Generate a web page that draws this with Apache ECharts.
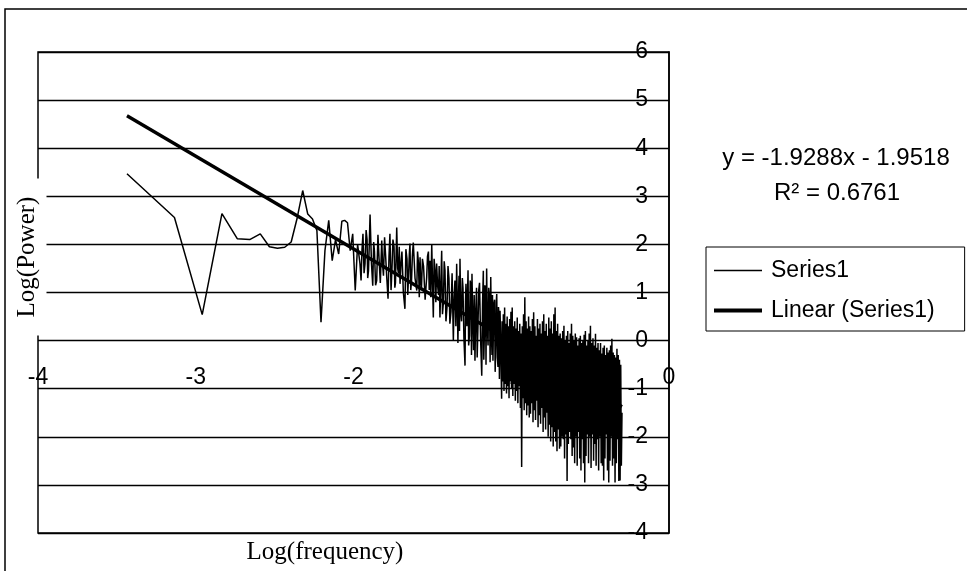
<!DOCTYPE html>
<html><head><meta charset="utf-8">
<script src="https://cdn.jsdelivr.net/npm/echarts@6/dist/echarts.min.js"></script>
<style>html,body{margin:0;padding:0;background:#fff}#c{width:967px;height:571px}</style>
</head><body><div id="c"></div>
<script>
const xTickLabels = [-4, -3, -2, -1, 0];
const yTickLabels = [-4, -3, -2, -1, 0, 1, 2, 3, 4, 5, 6];
const seriesName = 'Series1';
const trendName = 'Linear (Series1)';
const trendSlope = -1.9288;
const trendIntercept = -1.9518;
const rSquared = 0.6761;

const logFreq = [
-3.436,-3.135,-2.959,-2.834,-2.737,-2.658,-2.591,-2.533,-2.482,-2.436,
-2.395,-2.357,-2.322,-2.290,-2.260,-2.232,-2.206,-2.181,-2.157,-2.135,
-2.114,-2.094,-2.074,-2.056,-2.038,-2.021,-2.005,-1.989,-1.974,-1.959,
-1.952,-1.946,-1.940,-1.933,-1.927,-1.920,-1.914,-1.910,-1.905,-1.900,
-1.895,-1.886,-1.878,-1.872,-1.867,-1.860,-1.853,-1.845,-1.838,-1.830,
-1.821,-1.815,-1.810,-1.803,-1.797,-1.789,-1.781,-1.775,-1.769,-1.762,
-1.756,-1.750,-1.743,-1.738,-1.734,-1.730,-1.726,-1.720,-1.715,-1.710,
-1.705,-1.699,-1.693,-1.684,-1.674,-1.668,-1.661,-1.656,-1.651,-1.646,
-1.642,-1.637,-1.632,-1.627,-1.621,-1.610,-1.599,-1.594,-1.588,-1.583,
-1.578,-1.574,-1.569,-1.563,-1.556,-1.546,-1.536,-1.531,-1.525,-1.520,
-1.515,-1.510,-1.504,-1.499,-1.494,-1.489,-1.483,-1.478,-1.473,-1.467,
-1.461,-1.457,-1.452,-1.446,-1.441,-1.436,-1.430,-1.425,-1.420,-1.414,
-1.407,-1.401,-1.395,-1.389,-1.382,-1.375,-1.367,-1.362,-1.357,-1.351,
-1.346,
-1.338,-1.334,-1.331,-1.328,-1.325,-1.320,-1.315,-1.310,-1.306,-1.300,
-1.293,-1.290,-1.287,-1.281,-1.274,-1.270,-1.265,-1.260,-1.255,-1.252,
-1.249,-1.244,-1.239,-1.235,-1.230,-1.225,-1.220,-1.216,-1.211,-1.206,
-1.201,-1.194,-1.187,-1.182,-1.177,-1.174,-1.170,-1.167,-1.163,-1.160,
-1.156,-1.152,-1.147,-1.143,-1.138,-1.134,-1.130,-1.126,-1.122,-1.119,
-1.116,-1.111,-1.106,-1.102,-1.097,-1.095,-1.092,-1.088,-1.084,-1.081,
-1.078,-1.075,-1.071,-1.066,-1.061,
-1.058,-1.054,-1.050,-1.046,-1.042,-1.038,-1.034,-1.030,-1.026,-1.022,
-1.018,-1.014,-1.010,-1.006,-1.002,-0.998,-0.994,-0.990,-0.986,-0.982,
-0.978,-0.974,-0.970,-0.966,-0.962,-0.958,-0.954,-0.950,-0.946,-0.942,
-0.938,-0.934,-0.930,-0.926,-0.922,-0.918,-0.914,-0.910,-0.906,-0.902,
-0.898,-0.894,-0.890,-0.886,-0.882,-0.878,-0.874,-0.870,-0.866,-0.862,
-0.858,-0.854,-0.850,-0.846,-0.842,-0.838,-0.834,-0.830,-0.826,-0.822,
-0.818,-0.814,-0.810,-0.806,-0.802,-0.798,-0.794,-0.790,-0.786,-0.782,
-0.778,-0.774,-0.770,-0.766,-0.762,-0.758,-0.754,-0.750,-0.746,-0.742,
-0.738,-0.734,-0.730,-0.726,-0.722,-0.718,-0.714,-0.710,-0.706,-0.702,
-0.698,-0.694,
-0.690,-0.686,-0.682,-0.678,-0.674,-0.670,-0.666,-0.662,-0.658,-0.654,
-0.650,-0.646,-0.642,-0.638,-0.634,-0.630,-0.626,-0.622,-0.618,-0.614,
-0.610,-0.606,-0.602,-0.598,-0.594,-0.590,-0.586,-0.582,-0.578,-0.574,
-0.570,-0.566,-0.562,-0.558,-0.554,-0.550,-0.546,-0.542,-0.538,-0.534,
-0.530,-0.526,-0.522,-0.518,-0.514,-0.510,-0.506,-0.502,-0.498,-0.494,
-0.490,-0.486,-0.482,-0.478,-0.474,-0.470,-0.466,-0.462,-0.458,-0.454,
-0.450,-0.446,-0.442,-0.438,-0.434,-0.430,-0.426,-0.422,-0.418,-0.414,
-0.410,-0.406,-0.402,-0.398,-0.394,-0.390,-0.386,-0.382,-0.378,-0.374,
-0.370,-0.366,-0.362,-0.358,-0.354,-0.350,-0.346,-0.342,-0.338,-0.334,
-0.330,-0.326,-0.322,-0.318,-0.314,-0.310,-0.306,-0.302,-0.298
];

const logPower = [
3.47,2.56,0.54,2.64,2.12,2.10,2.22,1.95,1.92,1.94,
2.05,2.55,3.12,2.63,2.53,2.29,0.38,1.87,2.50,1.66,
2.10,1.80,2.48,2.50,2.45,1.87,2.22,1.04,2.00,1.60,
1.25,1.90,2.22,1.40,1.60,2.30,2.10,1.30,1.45,2.00,
2.62,1.60,1.14,2.05,1.85,1.15,1.25,2.20,1.70,1.20,
2.08,1.55,1.35,2.15,1.80,1.30,0.87,1.75,2.22,1.05,
1.50,2.10,1.95,1.10,1.20,1.75,2.35,1.50,1.40,1.95,
1.18,1.60,1.85,1.00,0.66,1.90,1.70,0.95,1.35,1.80,
2.02,1.05,1.25,1.75,2.04,1.30,1.04,1.85,1.60,0.90,
1.73,1.20,1.10,1.70,1.55,0.85,1.32,1.75,1.85,1.05,
1.66,0.90,2.00,1.20,0.48,1.70,1.45,0.80,1.60,1.15,
0.95,1.55,0.48,1.20,1.87,0.55,0.80,1.65,1.46,0.40,
0.70,1.55,1.30,0.35,0.60,1.40,0.00,0.90,1.25,0.30,
1.60,
-0.05,0.95,1.35,0.20,1.70,0.60,0.40,1.30,1.10,0.05,
-0.52,0.80,1.18,0.30,1.46,-0.10,0.10,1.25,1.05,-0.30,
1.39,0.45,-0.20,0.95,-0.42,0.60,1.10,-0.35,0.30,1.05,
1.20,0.00,-0.73,0.75,1.45,-0.40,0.20,1.15,1.00,-0.50,
1.50,0.35,-0.10,1.10,0.90,-0.45,1.32,0.20,-0.30,0.95,
-0.42,0.75,0.85,-0.65,0.10,0.80,0.97,-0.35,-0.55,0.70,
0.55,-0.80,0.62,-0.20,-1.21,
0.40,-0.85,0.55,-1.05,0.69,-0.90,0.35,-1.10,0.50,-0.95,
0.30,-1.20,0.45,-0.85,0.60,-1.00,0.69,-1.15,0.30,-0.90,
0.40,-1.25,0.25,-1.05,0.48,-1.30,0.20,-0.95,0.35,-1.40,
0.15,-2.63,0.30,-1.20,0.55,-1.45,0.90,-1.30,0.40,-1.55,
0.25,-1.35,0.50,-1.60,0.30,-1.52,0.20,-1.30,0.45,-1.70,
0.59,-1.45,0.30,-1.65,0.10,-1.25,0.45,-1.80,0.25,-1.55,
0.35,-1.73,0.15,-1.40,0.40,-1.90,0.55,-1.60,0.20,-1.85,
0.35,-1.50,0.10,-2.00,0.48,-1.75,0.25,-2.10,0.40,-1.80,
0.15,-2.20,0.55,-1.90,0.69,-2.10,0.20,-2.30,0.35,-1.85,
0.10,-2.25,
0.15,-2.20,0.05,-2.00,0.20,-2.05,0.31,-2.45,0.00,-1.95,
0.10,-2.92,0.20,-2.15,-0.05,-1.90,0.15,-2.05,0.35,-2.40,
0.10,-2.22,0.00,-2.55,0.15,-2.00,0.07,-2.60,-0.10,-1.90,
0.05,-2.45,0.10,-2.70,-0.05,-2.05,0.00,-2.55,0.12,-2.95,
0.20,-2.40,-0.10,-1.95,0.00,-2.55,0.15,-2.00,0.31,-2.65,
-0.05,-1.95,0.05,-2.50,-0.10,-2.15,0.14,-2.60,-0.15,-2.05,
-0.05,-2.70,-0.20,-2.00,-0.05,-2.55,-0.27,-2.60,-0.15,-2.91,
-0.10,-2.45,-0.30,-1.95,-0.15,-2.70,-0.25,-2.95,-0.20,-2.50,
-0.10,-2.00,0.04,-2.60,-0.25,-2.45,-0.30,-2.95,-0.35,-2.55,
-0.17,-2.05,-0.30,-2.92,-0.40,-2.91,-0.50,-2.60,-1.50
];

const series1Data = logFreq.map((x, i) => [x, logPower[i]]);
const xFirst = logFreq[0], xLast = logFreq[logFreq.length - 1];
const trendData = [[xFirst, trendSlope * xFirst + trendIntercept], [xLast, trendSlope * xLast + trendIntercept]];

const sans = "'Liberation Sans', Arial, sans-serif";
const serif = "'Liberation Serif', 'Times New Roman', serif";
const eqText = 'y = ' + trendSlope.toFixed(4) + 'x - ' + Math.abs(trendIntercept).toFixed(4);
const r2Text = 'R\u00B2 = ' + rSquared.toFixed(4);

const chart = echarts.init(document.getElementById('c'), null, {renderer: 'canvas'});
chart.setOption({
  animation: false,
  backgroundColor: '#fff',
  grid: {left: 38, right: 298, top: 52, bottom: 38, show: true, borderColor: '#000', borderWidth: 1.5, backgroundColor: 'transparent'},
  xAxis: {
    type: 'value', min: xTickLabels[0], max: xTickLabels[xTickLabels.length - 1], interval: 1,
    position: 'bottom', offset: -146,
    axisLine: {show: false}, axisTick: {show: false}, splitLine: {show: false},
    axisLabel: {inside: true, margin: -2, color: '#000', fontSize: 23, fontFamily: sans, showMinLabel: true, showMaxLabel: true}
  },
  yAxis: {
    type: 'value', min: yTickLabels[0], max: yTickLabels[yTickLabels.length - 1], interval: 1,
    position: 'right',
    axisLine: {show: true, lineStyle: {color: '#000', width: 1.5}},
    axisTick: {show: false},
    splitLine: {show: true, lineStyle: {color: '#000', width: 1.4}},
    axisLabel: {inside: true, margin: 21, color: '#000', fontSize: 23, fontFamily: sans}
  },
  legend: {
    orient: 'vertical', left: 706, top: 247,
    padding: [12, 30, 9, 8],
    itemWidth: 48, itemHeight: 14, itemGap: 17,
    borderColor: '#000', borderWidth: 1,
    symbolKeepAspect: true,
    itemStyle: {color: '#000'},
    textStyle: {color: '#000', fontSize: 23, fontFamily: sans, padding: [0, 0, 0, 4]},
    data: [
      {name: seriesName, icon: 'path://M0,0H48V1.5H0Z'},
      {name: trendName, icon: 'path://M0,0H48V4H0Z'}
    ]
  },
  graphic: [
    {type: 'rect', z: 100, silent: true, shape: {x: 5, y: 9, width: 2000, height: 2000}, style: {fill: 'none', stroke: '#000', lineWidth: 1.5}},
    {type: 'text', z: 100, x: 27, y: 257, rotation: Math.PI / 2, silent: true,
      style: {text: 'Log(Power)', fill: '#000', fontSize: 25, fontFamily: serif, align: 'center', verticalAlign: 'middle', backgroundColor: '#fff', padding: [7, 18, 7, 18]}},
    {type: 'text', z: 100, x: 325, y: 552, silent: true,
      style: {text: 'Log(frequency)', fill: '#000', fontSize: 25, fontFamily: serif, align: 'center', verticalAlign: 'middle'}},
    {type: 'text', z: 100, x: 836, y: 158, silent: true,
      style: {text: eqText, fill: '#000', fontSize: 24, fontFamily: sans, align: 'center', verticalAlign: 'middle'}},
    {type: 'text', z: 100, x: 837, y: 193, silent: true,
      style: {text: r2Text, fill: '#000', fontSize: 24, fontFamily: sans, align: 'center', verticalAlign: 'middle'}}
  ],
  series: [
    {name: seriesName, type: 'line', data: series1Data, symbol: 'none', lineStyle: {color: '#000', width: 1.5}, itemStyle: {color: '#000'}, z: 3},
    {name: trendName, type: 'line', data: trendData, symbol: 'none', lineStyle: {color: '#000', width: 3.4}, itemStyle: {color: '#000'}, z: 4}
  ]
});
</script></body></html>
